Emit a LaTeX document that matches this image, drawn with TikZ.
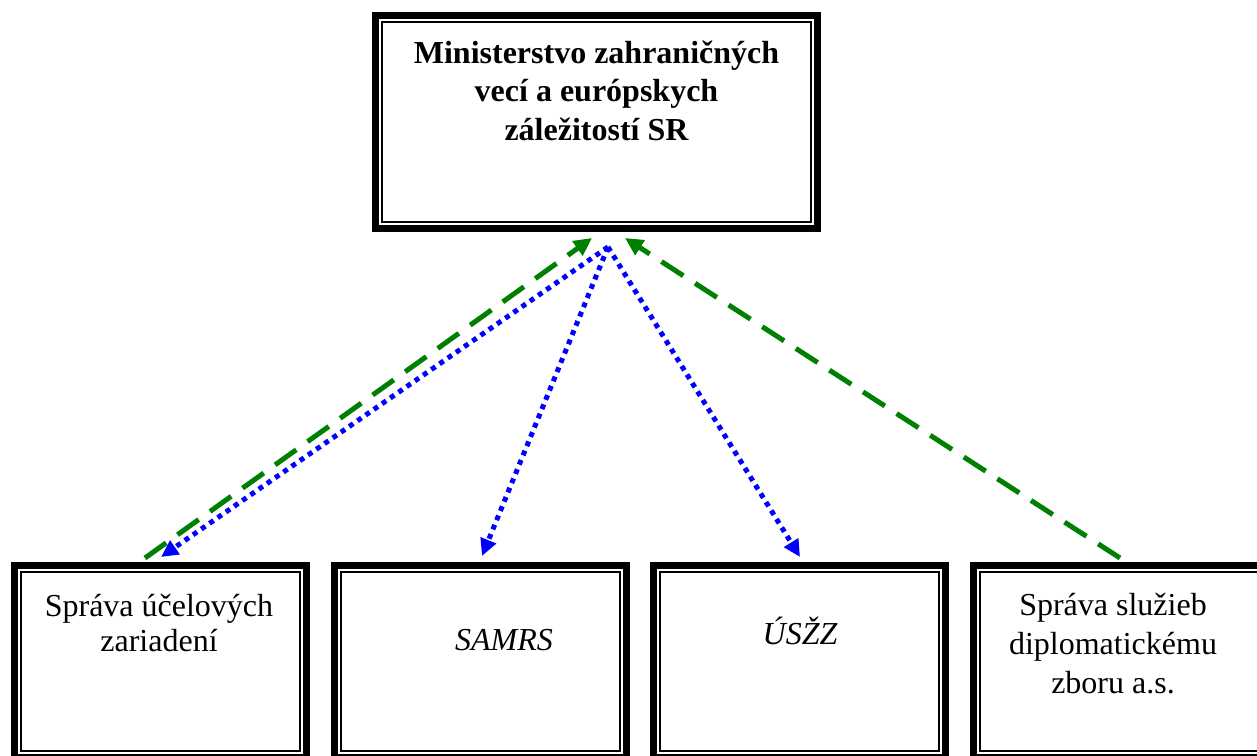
\documentclass[tikz,border=0pt]{standalone}
\usepackage{fontspec}
\setmainfont{Liberation Serif}
\usetikzlibrary{arrows.meta,calc}
\definecolor{grn}{RGB}{0,128,0}
\definecolor{blu}{RGB}{0,0,255}
\newcommand\dblframe[1]{%
  \draw[line width=7pt] ($(#1.north west)+(3.5,3.5)$) rectangle ($(#1.south east)+(-3.5,-3.5)$);
  \draw[line width=1.5pt] ($(#1.north west)+(10,10)$) rectangle ($(#1.south east)+(-10,-10)$);}
\begin{document}
\begin{tikzpicture}[x=1pt,y=-1pt,
  boxshape/.style={rectangle, inner sep=0pt, outer sep=0pt, minimum width=299pt, minimum height=199pt},
  topshape/.style={rectangle, inner sep=0pt, outer sep=0pt, minimum width=449pt, minimum height=220pt},
  lbl/.style={anchor=base, align=center, inner sep=0pt},
  greenarrow/.style={draw=grn, line width=5pt, dash pattern=on 26pt off 14pt, -{Triangle[length=18pt,width=17pt]}},
  bluearrow/.style={draw=blu, line width=5pt, dash pattern=on 5pt off 5pt, -{Triangle[length=17pt,width=16pt]}}
]
\useasboundingbox (0,0) rectangle (1257,755);
\clip (0,0) rectangle (1257,755);
\fill[white] (0,0) rectangle (1257,755);

\node[topshape] (top) at (596.5,122) {};
\node[boxshape] (b1) at (160.5,661.5) {};
\node[boxshape] (b2) at (480.5,661.5) {};
\node[boxshape] (b3) at (799.5,661.5) {};
\node[boxshape] (b4) at (1119.5,661.5) {};
\dblframe{top}
\dblframe{b1}
\dblframe{b2}
\dblframe{b3}
\dblframe{b4}

% anchor=base of a multi-line node is the baseline of its last line
\node[lbl, font=\bfseries\fontsize{32}{38.5}\selectfont] (ttop) at (596.5,140) {Ministerstvo zahraničných\\vecí a európskych\\záležitostí SR};
\node[lbl, font=\fontsize{32}{35}\selectfont] (t1) at (159,651) {Správa účelových\\zariadení};
\node[lbl, font=\itshape\fontsize{32}{38}\selectfont] (t2) at (504,650) {SAMRS};
\node[lbl, font=\itshape\fontsize{32}{38}\selectfont] (t3) at (800,644) {ÚSŽZ};
\node[lbl, font=\fontsize{32}{39}\selectfont] (t4) at (1113,693) {Správa služieb\\diplomatickému\\zboru a.s.};

\coordinate (hub) at ($(top.south)+(11.5,15)$);
\draw[greenarrow] ($(b1.north)+(-15.5,-4)$) -- ($(top.south)+(-4.5,6)$);
\draw[greenarrow] ($(b4.north)+(0.5,-4)$) -- ($(top.south)+(28.5,6)$);
\draw[bluearrow] (hub) -- ($(b1.north)+(0.5,-5)$);
\draw[bluearrow] (hub) -- ($(b2.north)+(1.5,-6)$);
\draw[bluearrow] (hub) -- ($(b3.north)+(0.5,-5)$);
\end{tikzpicture}
\end{document}
